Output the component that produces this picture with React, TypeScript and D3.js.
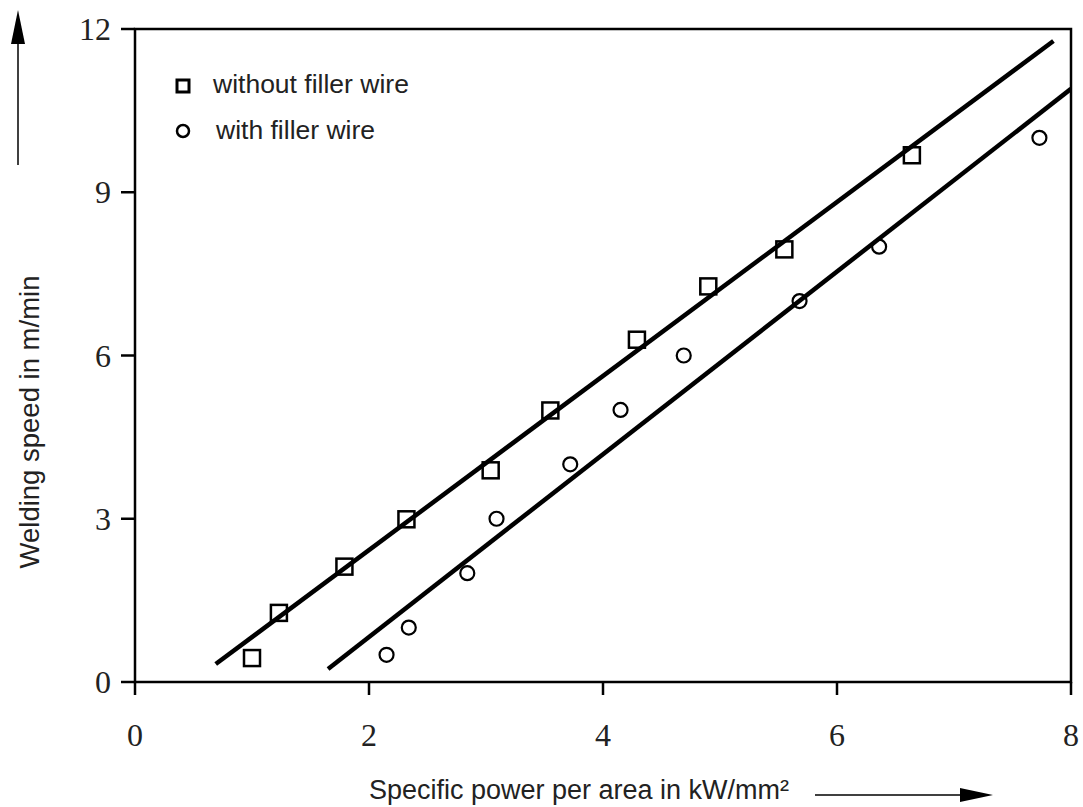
import React from "react";
import * as d3 from "d3";

// Welding speed vs. specific power per area
const withoutFillerX = [1.0, 1.23, 1.79, 2.32, 3.04, 3.55, 4.29, 4.9, 5.55, 6.64];
const withoutFillerY = [0.44, 1.27, 2.12, 2.99, 3.89, 4.99, 6.29, 7.27, 7.95, 9.68];
const withFillerX = [2.15, 2.34, 2.84, 3.09, 3.72, 4.15, 4.69, 5.68, 6.36, 7.73];
const withFillerY = [0.5, 1.0, 2.0, 3.0, 4.0, 5.0, 6.0, 7.0, 8.0, 10.0];

// Regression lines: [x, y] end points
const lineWithout: [number, number][] = [[0.69, 0.33], [7.85, 11.78]];
const lineWith: [number, number][] = [[1.65, 0.24], [8.0, 10.9]];

const xTicks = [0, 2, 4, 6, 8];
const yTicks = [0, 3, 6, 9, 12];

const legendLabels = ["without filler wire", "with filler wire"];
const xTitle = "Specific power per area in kW/mm²";
const yTitle = "Welding speed in m/min";

export default function App() {
  const W = 1083;
  const H = 807;
  const left = 135, right = 1071, top = 29, bottom = 682;
  const x = d3.scaleLinear().domain([0, 8]).range([left, right]);
  const y = d3.scaleLinear().domain([0, 12]).range([bottom, top]);
  const line = d3.line<[number, number]>().x(d => x(d[0])).y(d => y(d[1]));
  const serif = "'Liberation Serif', 'DejaVu Serif', serif";
  const sans = "'Liberation Sans', Arial, sans-serif";
  const sq = 16;

  return (
    <svg width={W} height={H} style={{ position: "absolute", left: 0, top: 0, background: "#fff" }}>
      <defs>
        <clipPath id="plotClip">
          <rect x={left} y={top} width={right - left} height={bottom - top} />
        </clipPath>
      </defs>
      {/* frame */}
      <rect x={left} y={top} width={right - left} height={bottom - top} fill="none" stroke="#000" strokeWidth={2.5} />
      {/* ticks */}
      {xTicks.map(t => (
        <g key={"xt" + t}>
          <line x1={x(t)} x2={x(t)} y1={bottom} y2={bottom + 13} stroke="#000" strokeWidth={2.5} />
          <text x={x(t)} y={746} textAnchor="middle" fontFamily={serif} fontSize={32} fill="#222">{t}</text>
        </g>
      ))}
      {yTicks.map(t => (
        <g key={"yt" + t}>
          <line x1={left - 14} x2={left} y1={y(t)} y2={y(t)} stroke="#000" strokeWidth={2.5} />
          <text x={111} y={y(t) + 11} textAnchor="end" fontFamily={serif} fontSize={32} fill="#222">{t}</text>
        </g>
      ))}
      {/* fitted lines */}
      <g clipPath="url(#plotClip)">
        <path d={line(lineWithout) || ""} stroke="#000" strokeWidth={4.5} fill="none" />
        <path d={line(lineWith) || ""} stroke="#000" strokeWidth={4.5} fill="none" />
      </g>
      {/* data */}
      {withoutFillerX.map((v, i) => (
        <rect key={"s" + i} x={x(v) - sq / 2} y={y(withoutFillerY[i]) - sq / 2} width={sq} height={sq}
          fill="none" stroke="#000" strokeWidth={2.5} />
      ))}
      {withFillerX.map((v, i) => (
        <circle key={"c" + i} cx={x(v)} cy={y(withFillerY[i])} r={7} fill="none" stroke="#000" strokeWidth={2.2} />
      ))}
      {/* legend */}
      <rect x={177} y={80} width={12} height={12} fill="none" stroke="#000" strokeWidth={3} />
      <text x={213} y={93} fontFamily={sans} fontSize={26.5} fill="#222">{legendLabels[0]}</text>
      <circle cx={183} cy={131} r={6} fill="none" stroke="#000" strokeWidth={2.5} />
      <text x={216} y={139} fontFamily={sans} fontSize={26.5} fill="#222">{legendLabels[1]}</text>
      {/* axis titles */}
      <text x={579} y={799} textAnchor="middle" fontFamily={sans} fontSize={27} fill="#222">{xTitle}</text>
      <text transform="translate(39,422) rotate(-90)" textAnchor="middle" fontFamily={sans} fontSize={27.5} fill="#222">{yTitle}</text>
      {/* direction arrows */}
      <line x1={18} x2={18} y1={165} y2={36} stroke="#000" strokeWidth={1.5} />
      <path d="M18,10 L11,44 L25,44 Z" fill="#000" />
      <line x1={815} x2={965} y1={795} y2={795} stroke="#000" strokeWidth={1.5} />
      <path d="M993,795 L960,788 L960,802 Z" fill="#000" />
    </svg>
  );
}
